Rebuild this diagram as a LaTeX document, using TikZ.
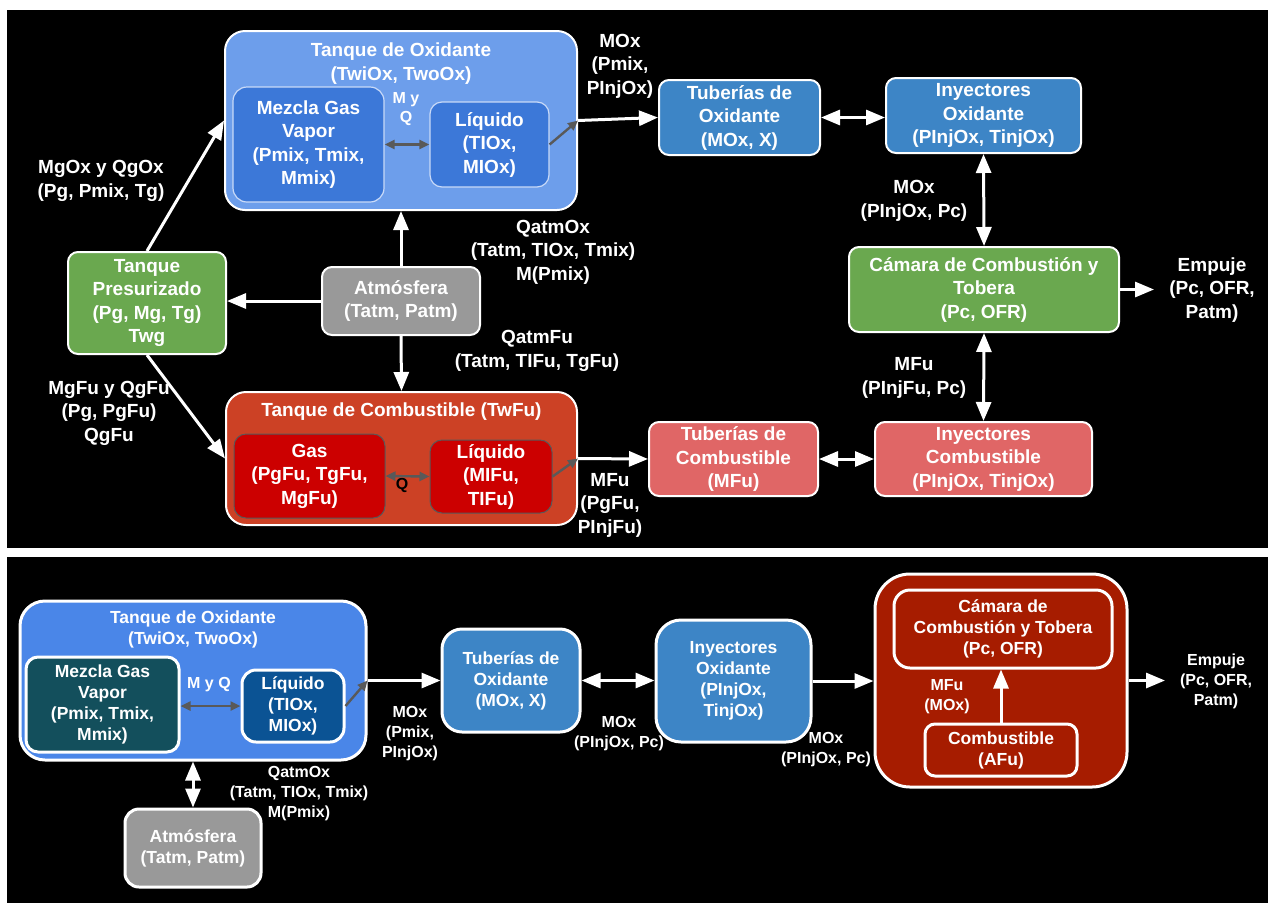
\documentclass[tikz,border=0pt]{standalone}
\usepackage{fontspec}
\setmainfont{Liberation Sans}
\usetikzlibrary{arrows.meta}
\definecolor{toxA}{HTML}{6D9EEB}
\definecolor{inA}{HTML}{3C78D8}
\definecolor{pipeA}{HTML}{3D85C6}
\definecolor{greenA}{HTML}{6AA84F}
\definecolor{grayA}{HTML}{999999}
\definecolor{tcombA}{HTML}{CC4125}
\definecolor{inF}{HTML}{CC0000}
\definecolor{pipeF}{HTML}{E06666}
\definecolor{toxB}{HTML}{4A86E8}
\definecolor{mezB}{HTML}{134F5C}
\definecolor{liqB}{HTML}{0B5394}
\definecolor{redB}{HTML}{A61C00}
\definecolor{arrG}{HTML}{595959}
\definecolor{inBorder}{HTML}{C9DAF8}
\newcommand\fntA{\fontsize{19pt}{23.5pt}\selectfont\bfseries}
\newcommand\fntB{\fontsize{17.5pt}{21pt}\selectfont\bfseries}
\newcommand\fntC{\fontsize{16pt}{20pt}\selectfont\bfseries}
\newcommand\fntD{\fontsize{16pt}{18.5pt}\selectfont\bfseries}
\tikzset{
  boxA/.style={draw=white, line width=2pt, rounded corners=10pt, text=white, font=\fntA, align=center, inner sep=0pt},
  boxB/.style={draw=white, line width=3pt, rounded corners=18pt, text=white, font=\fntB, align=center, inner sep=0pt},
  lblA/.style={text=white, font=\fntA, align=center, inner sep=0pt},
  lblB/.style={text=white, font=\fntC, align=center, inner sep=0pt},
  lblS/.style={text=white, font=\fntD, align=center, inner sep=0pt},
  wtip/.tip={Triangle[length=19pt,width=15pt]},
  gtip/.tip={Triangle[length=10pt,width=9pt]},
  warr/.style={draw=white, line width=3pt, -wtip},
  wdarr/.style={draw=white, line width=3pt, wtip-wtip},
  garr/.style={draw=arrG, line width=2.4pt, -gtip},
  gdarr/.style={draw=arrG, line width=2.4pt, gtip-gtip},
}
\begin{document}
\begin{tikzpicture}[x=1pt,y=-1pt]
\fill[white] (0,0) rectangle (1268,903);
\useasboundingbox (0,0) rectangle (1268,903);
\fill[black] (7,10) rectangle (1268,548);
\fill[black] (7,557) rectangle (1268,903);

% ---------------- top panel ----------------
\node[boxA, fill=toxA, rounded corners=20pt, minimum width=352pt, minimum height=179pt] (tox) at (401,120.5) {};
\node[lblA] (toxt) at (401,63.5) {Tanque de Oxidante\\(TwiOx, TwoOx)};
\node[boxA, fill=inA, draw=inBorder, line width=1.2pt, rounded corners=14pt, minimum width=151pt, minimum height=115pt] (mezox) at (308.5,144.5) {Mezcla Gas\\Vapor\\(Pmix, Tmix,\\Mmix)};
\node[boxA, fill=inA, draw=inBorder, line width=1.2pt, rounded corners=12pt, minimum width=119pt, minimum height=85pt] (liqox) at (489.5,144.5) {Líquido\\(TIOx,\\MIOx)};
\node[lblS] (myq) at (406,109) {M y\\Q};

\node[boxA, fill=pipeA, minimum width=161pt, minimum height=75pt] (tubox) at (739.5,117.5) {Tuberías de\\Oxidante\\(MOx, X)};
\node[boxA, fill=pipeA, minimum width=195pt, minimum height=75pt] (inyox) at (983.5,115.5) {Inyectores\\Oxidante\\(PInjOx, TinjOx)};
\node[boxA, fill=greenA, minimum width=270pt, minimum height=85pt] (cam) at (984,289.5) {Cámara de Combustión y\\Tobera\\(Pc, OFR)};
\node[boxA, fill=pipeF, minimum width=217pt, minimum height=74pt] (inyfu) at (983.5,459) {Inyectores\\Combustible\\(PInjOx, TinjOx)};
\node[boxA, fill=pipeF, minimum width=169pt, minimum height=74pt] (tubfu) at (733.5,459) {Tuberías de\\Combustible\\(MFu)};

\node[boxA, fill=tcombA, rounded corners=20pt, minimum width=351pt, minimum height=133pt] (tfu) at (401.5,458.5) {};
\node[lblA] (tfut) at (401.5,412) {Tanque de Combustible (TwFu)};
\node[boxA, fill=inF, draw=arrG, line width=1pt, rounded corners=12pt, minimum width=151pt, minimum height=84pt] (gasfu) at (309.5,476) {Gas\\(PgFu, TgFu,\\MgFu)};
\node[boxA, fill=inF, draw=arrG, line width=1pt, rounded corners=12pt, minimum width=122pt, minimum height=73pt] (liqfu) at (491,476.5) {Líquido\\(MIFu,\\TIFu)};
\node[text=black, font=\fntD, inner sep=0pt] (qfu) at (402,485) {Q};

\node[boxA, fill=greenA, minimum width=158pt, minimum height=102pt] (pres) at (147,303) {Tanque\\Presurizado\\(Pg, Mg, Tg)\\Twg};
\node[boxA, fill=grayA, minimum width=158pt, minimum height=68pt] (atm) at (401,301) {Atmósfera\\(Tatm, Patm)};

\node[lblA] (l1) at (101,181) {MgOx y QgOx\\(Pg, Pmix, Tg)};
\node[lblA] (l2) at (109,413) {MgFu y QgFu\\(Pg, PgFu)\\QgFu};
\node[lblA] (l3) at (553,252) {QatmOx\\(Tatm, TIOx, Tmix)\\M(Pmix)};
\node[lblA] (l4) at (537,351) {QatmFu\\(Tatm, TIFu, TgFu)};
\node[lblA] (l5) at (620,66) {MOx\\(Pmix,\\PInjOx)};
\node[lblA] (l6) at (914,201) {MOx\\(PInjOx, Pc)};
\node[lblA] (l7) at (914,378) {MFu\\(PInjFu, Pc)};
\node[lblA] (l8) at (1212,290) {Empuje\\(Pc, OFR,\\Patm)};
\node[lblA] (l9) at (610,505) {MFu\\(PgFu,\\PInjFu)};
\coordinate (emp1) at (1154,289.5);

% connectors top
\draw[gdarr] (mezox.east) -- (liqox.west);
\draw[garr] (liqox.east) -- (tox.east);
\draw[warr] (tox.east) -- (tubox.west);
\draw[wdarr] (tubox.east) -- (tubox.east -| inyox.west);
\draw[wdarr] (inyox.south) -- (cam.north);
\draw[wdarr] (cam.south) -- (inyfu.north);
\draw[wdarr] (tubfu.east) -- (inyfu.west);
\draw[warr] (cam.east) -- (emp1);
\draw[gdarr] (gasfu.east) -- (liqfu.west);
\draw[garr] (liqfu.east) -- (tfu.east);
\draw[warr] (tfu.east) -- (tubfu.west);
\draw[warr] (pres.north) -- (tox.west);
\draw[warr] (pres.south) -- (tfu.west);
\draw[warr] (atm.west) -- (atm.west -| pres.east);
\draw[warr] (atm.north) -- (tox.south);
\draw[warr] (atm.south) -- (tfu.north);

% ---------------- bottom panel ----------------
\node[boxB, fill=toxB, rounded corners=25pt, minimum width=346pt, minimum height=159pt] (tox2) at (193,680.5) {};
\node[lblB, font=\fntB] (tox2t) at (193,629) {Tanque de Oxidante\\(TwiOx, TwoOx)};
\node[boxB, fill=mezB, rounded corners=12pt, minimum width=153pt, minimum height=95pt] (mez2) at (102.5,704.5) {Mezcla Gas\\Vapor\\(Pmix, Tmix,\\Mmix)};
\node[boxB, fill=liqB, rounded corners=14pt, minimum width=102pt, minimum height=72pt] (liq2) at (293,706) {Líquido\\(TIOx,\\MIOx)};
\node[lblB] (myq2) at (209,685) {M y Q};
\node[boxB, fill=pipeA, rounded corners=20pt, minimum width=138pt, minimum height=103pt] (tub2) at (511,680.5) {Tuberías de\\Oxidante\\(MOx, X)};
\node[boxB, fill=pipeA, rounded corners=25pt, minimum width=155pt, minimum height=122pt] (iny2) at (733.5,681) {Inyectores\\Oxidante\\(PInjOx,\\TinjOx)};
\node[boxB, fill=redB, rounded corners=35pt, minimum width=252pt, minimum height=213pt] (red2) at (1001,680.5) {};
\node[boxB, fill=redB, rounded corners=16pt, minimum width=218pt, minimum height=78pt] (cam2) at (1003,629) {Cámara de\\Combustión y Tobera\\(Pc, OFR)};
\node[boxB, fill=redB, rounded corners=10pt, minimum width=152pt, minimum height=52pt] (comb2) at (1001,750) {Combustible\\(AFu)};
\node[boxB, fill=grayA, rounded corners=14pt, minimum width=136pt, minimum height=78pt] (atm2) at (193,848) {Atmósfera\\(Tatm, Patm)};

\node[lblB] (b1) at (410,734) {MOx\\(Pmix,\\PInjOx)};
\node[lblB] (b2) at (619,733.5) {MOx\\(PInjOx, Pc)};
\node[lblB] (b3) at (826,750) {MOx\\(PInjOx, Pc)};
\node[lblB] (b4) at (947,697) {MFu\\(MOx)};
\node[lblB] (b5) at (1216,681) {Empuje\\(Pc, OFR,\\Patm)};
\node[lblB] (b6) at (299,794) {QatmOx\\(Tatm, TIOx, Tmix)\\M(Pmix)};
\coordinate (emp2) at (1165,680.5);

% connectors bottom
\draw[gdarr] (mez2.east |- liq2.west) -- (liq2.west);
\draw[garr] (liq2.east) -- (tox2.east);
\draw[warr] (tox2.east) -- (tub2.west);
\draw[wdarr] (tub2.east) -- (tub2.east -| iny2.west);
\draw[warr] (iny2.east) -- (iny2.east -| red2.west);
\draw[warr] (comb2.north) -- (comb2.north |- cam2.south);
\draw[warr] (red2.east) -- (emp2);
\draw[wdarr] (tox2.south) -- (atm2.north);
\end{tikzpicture}
\end{document}
